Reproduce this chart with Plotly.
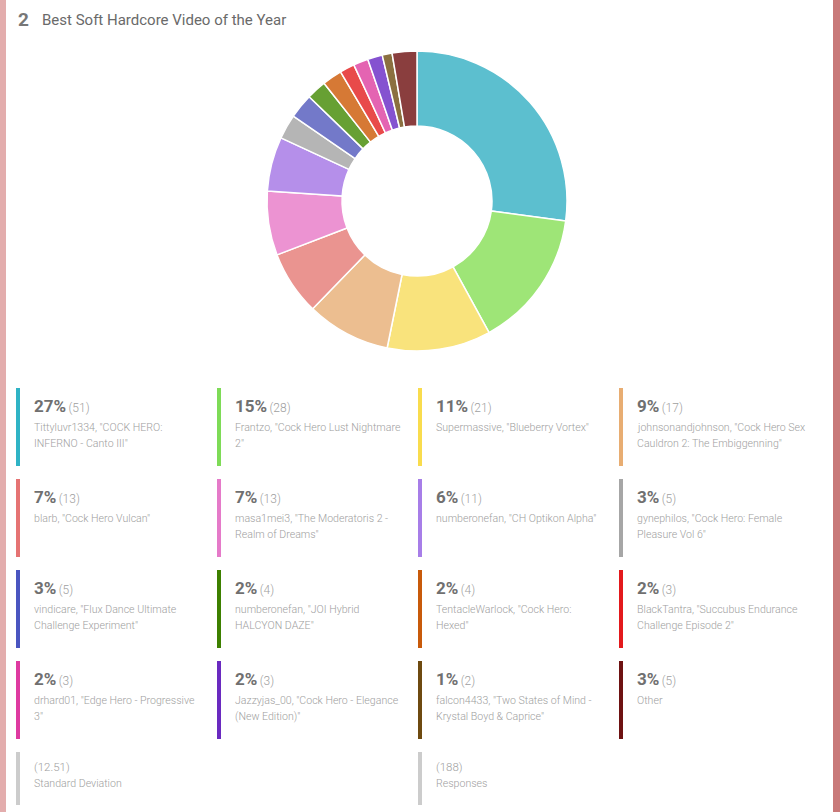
import plotly.graph_objects as go

# ---- data ----
labels = [
    'Tittyluvr1334, "COCK HERO:\nINFERNO - Canto III"',
    'Frantzo, "Cock Hero Lust Nightmare\n2"',
    'Supermassive, "Blueberry Vortex"',
    'johnsonandjohnson, "Cock Hero Sex\nCauldron 2: The Embiggenning"',
    'blarb, "Cock Hero Vulcan"',
    'masa1mei3, "The Moderatoris 2 -\nRealm of Dreams"',
    'numberonefan, "CH Optikon Alpha"',
    'gynephilos, "Cock Hero: Female\nPleasure Vol 6"',
    'vindicare, "Flux Dance Ultimate\nChallenge Experiment"',
    'numberonefan, "JOI Hybrid\nHALCYON DAZE"',
    'TentacleWarlock, "Cock Hero:\nHexed"',
    'BlackTantra, "Succubus Endurance\nChallenge Episode 2"',
    'drhard01, "Edge Hero - Progressive\n3"',
    'Jazzyjas_00, "Cock Hero - Elegance\n(New Edition)"',
    'falcon4433, "Two States of Mind -\nKrystal Boyd & Caprice"',
    'Other',
]
counts = [51, 28, 21, 17, 13, 13, 11, 5, 5, 4, 4, 3, 3, 3, 2, 5]
percents = ["27%", "15%", "11%", "9%", "7%", "7%", "6%", "3%", "3%", "2%", "2%", "2%", "2%", "2%", "1%", "3%"]
slice_colors = ["#5cbfcf", "#9ee577", "#f9e37c", "#ecbe90", "#ea9490", "#ec93d2", "#b58fea", "#b5b5b5",
                "#7379c9", "#67a033", "#d67935", "#e84a4a", "#e464b2", "#8552d0", "#8b7040", "#8a3e3e"]
bar_colors = ["#2fb3c5", "#7edb57", "#f9dc4d", "#e8ad72", "#e57373", "#e57ac9", "#a77ee8", "#a6a6a6",
              "#4a55c0", "#3d8000", "#c85a0a", "#e3191c", "#de3aa0", "#6a2ac0", "#6e4a10", "#6e1212"]
stat_values = ["(12.51)", "(188)"]
stat_labels = ["Standard Deviation", "Responses"]
title_num = "2"
title_text = "Best Soft Hardcore Video of the Year"

W, H = 840, 812
def px(x):
    return x / W
def py(y):
    return 1 - y / H

fig = go.Figure()
fig.add_trace(go.Pie(
    values=counts, labels=[l.replace("\n", " ") for l in labels],
    hole=0.5, sort=False, direction="clockwise", rotation=0,
    marker=dict(colors=slice_colors, line=dict(color="white", width=1.5)),
    textinfo="none", hoverinfo="label+value+percent", showlegend=False,
    domain=dict(x=[px(267), px(567)], y=[py(351), py(51)]),
))

shapes = []
annotations = []
# borders
shapes.append(dict(type="rect", xref="paper", yref="paper", x0=0, x1=px(6), y0=0, y1=1,
                   fillcolor="#e3adad", line=dict(width=0), layer="below"))
shapes.append(dict(type="rect", xref="paper", yref="paper", x0=px(833), x1=1, y0=0, y1=1,
                   fillcolor="#c97a7a", line=dict(width=0), layer="below"))

# title
annotations.append(dict(text="<b>" + title_num + "</b>", x=px(16), y=py(20), xref="paper", yref="paper",
                        xanchor="left", yanchor="middle", showarrow=False,
                        font=dict(family="Roboto", size=19, color="#777777")))
annotations.append(dict(text=title_text, x=px(40), y=py(20), xref="paper", yref="paper",
                        xanchor="left", yanchor="middle", showarrow=False,
                        font=dict(family="Roboto", size=15, color="#6a6a6a")))

col_x = [16, 217, 418, 619]
row_y0 = 388
row_pitch = 91
bar_h = 78
NAME_FONT = dict(family="Roboto", size=10.6, color="#a0a0a0", weight=300)

for i, (lab, c, p, bc) in enumerate(zip(labels, counts, percents, bar_colors)):
    r, col = divmod(i, 4)
    bx = col_x[col]
    top = row_y0 + r * row_pitch
    shapes.append(dict(type="rect", xref="paper", yref="paper", x0=px(bx), x1=px(bx + 4),
                       y0=py(top + bar_h), y1=py(top), fillcolor=bc, line=dict(width=0)))
    annotations.append(dict(
        text="<b>" + p + "</b><span style='font-size:12px;color:#a0a0a0;font-weight:300'>\u2009(" + str(c) + ")</span>",
        x=px(bx + 16), y=py(top + 18), xref="paper", yref="paper",
        xanchor="left", yanchor="middle", showarrow=False,
        font=dict(family="Roboto", size=17, color="#707070")))
    for k, line in enumerate(lab.split("\n")):
        annotations.append(dict(text=line, x=px(bx + 16), y=py(top + 39 + 16 * k), xref="paper", yref="paper",
                                xanchor="left", yanchor="middle", showarrow=False,
                                font=NAME_FONT))

# stats row
stat_cols = [0, 2]
top = row_y0 + 4 * row_pitch
for sv, sl, col in zip(stat_values, stat_labels, stat_cols):
    bx = col_x[col]
    shapes.append(dict(type="rect", xref="paper", yref="paper", x0=px(bx), x1=px(bx + 4),
                       y0=py(top + 53), y1=py(top), fillcolor="#cccccc", line=dict(width=0)))
    annotations.append(dict(text=sv, x=px(bx + 16), y=py(top + 15), xref="paper", yref="paper",
                            xanchor="left", yanchor="middle", showarrow=False,
                            font=dict(family="Roboto", size=11.5, color="#a0a0a0", weight=300)))
    annotations.append(dict(text=sl, x=px(bx + 16), y=py(top + 31), xref="paper", yref="paper",
                            xanchor="left", yanchor="middle", showarrow=False,
                            font=NAME_FONT))

fig.update_layout(
    width=W, height=H, margin=dict(l=0, r=0, t=0, b=0),
    paper_bgcolor="white", plot_bgcolor="white",
    shapes=shapes, annotations=annotations,
)
fig.write_html("out.html")
